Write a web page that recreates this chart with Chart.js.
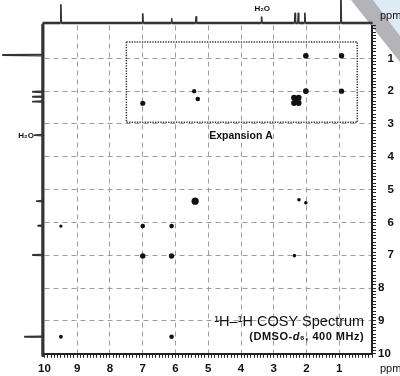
<!DOCTYPE html>
<html>
<head>
<meta charset="utf-8">
<script src="https://cdn.jsdelivr.net/npm/chart.js@4"></script>
<style>
  html, body { margin: 0; padding: 0; background: #fff; }
</style>
</head>
<body>
<canvas id="cosy" width="400" height="376"></canvas>
<script>
// cross peaks: F2 shift (horizontal), F1 shift (vertical), relative intensity
const crossF2  = [7.00, 5.43, 5.32, 2.02, 0.93, 2.02, 0.93, 2.38, 2.24, 2.38, 2.24, 2.31, 5.40, 9.50, 7.00, 6.12, 7.00, 6.12, 2.23, 2.02, 2.37, 9.50, 6.12];
const crossF1  = [2.37, 2.00, 2.24, 0.92, 0.92, 2.00, 2.00, 2.20, 2.20, 2.36, 2.36, 2.28, 5.35, 6.11, 6.11, 6.11, 7.02, 7.02, 5.31, 5.40, 7.01, 9.48, 9.48];
const crossInt = [0.60, 0.45, 0.50, 0.70, 0.65, 0.70, 0.65, 0.75, 0.75, 0.75, 0.75, 0.75, 1.00, 0.25, 0.50, 0.50, 0.65, 0.65, 0.30, 0.30, 0.30, 0.35, 0.50];

// 1D projection on top (F2) and on the left (F1)
const topShift  = [9.50, 7.00, 6.12, 5.37, 3.37, 2.35, 2.25, 2.05, 0.95];
const topInt    = [58, 29, 13, 20, 19, 31, 31, 31, 100];
const leftShift = [0.90, 2.02, 2.17, 2.32, 3.34, 5.35, 6.10, 6.99, 9.48];
const leftInt   = [100, 25, 25, 25, 20, 15, 12, 25, 45];
const waterShift = 3.35;

// dotted box marking Expansion A (ppm)
const expansionF2 = [7.5, 0.45];
const expansionF1 = [0.5, 2.95];

const FONT = '"Liberation Sans", Arial, Helvetica, sans-serif';
const TOP_BASE = -0.076, TOP_GAIN = 0.0095;
const LEFT_BASE = 10.05, LEFT_GAIN = 0.0122;
const PEAK_HALF = 0.012;

function buildTrace(shifts, ints, start, end, place) {
  const dir = Math.sign(end - start);
  const idx = shifts.map((_, i) => i).sort((a, b) => (shifts[a] - shifts[b]) * dir);
  const pts = [place(start, 0)];
  idx.forEach(i => {
    pts.push(place(shifts[i] - dir * PEAK_HALF, 0));
    pts.push(place(shifts[i], ints[i]));
    pts.push(place(shifts[i] + dir * PEAK_HALF, 0));
  });
  pts.push(place(end, 0));
  return pts;
}

const topTrace = buildTrace(topShift, topInt, 10.06, -0.02,
  (s, h) => ({x: s, y: TOP_BASE - h * TOP_GAIN}));
const leftTrace = buildTrace(leftShift, leftInt, -0.02, 10.05,
  (s, h) => ({x: LEFT_BASE + h * LEFT_GAIN, y: s}));

const crossPoints = crossF2.map((f2, i) => ({x: f2, y: crossF1[i]}));
const crossRadius = crossInt.map(v => 1 + 2.6 * v);

const boxPoints = [
  {x: expansionF2[0], y: expansionF1[0]}, {x: expansionF2[1], y: expansionF1[0]},
  {x: expansionF2[1], y: expansionF1[1]}, {x: expansionF2[0], y: expansionF1[1]},
  {x: expansionF2[0], y: expansionF1[0]}
];

const isMajor = v => Math.abs(v - Math.round(v)) < 1e-6;
const gridColor = c => {
  const v = c.tick ? c.tick.value : 0;
  return isMajor(v) && v > 0.5 && v < 9.5 ? '#9c9c9c' : 'rgba(0,0,0,0)';
};
const tickFont = {family: FONT, size: 11.5, weight: 'bold'};

// thick baseline, thin peak strokes
const topSegWidth = c => (Math.abs(c.p0.y - c.p1.y) < 0.01 ? 2.6 : 1.7);
const leftSegWidth = c => (Math.abs(c.p0.x - c.p1.x) < 0.01 ? 3.2 : 1.9);

// grey diagonal streak across the upper right corner
const streak = {
  id: 'streak',
  beforeDraw(chart) {
    const {ctx} = chart;
    ctx.save();
    ctx.fillStyle = 'rgba(200,220,236,0.6)';
    ctx.beginPath();
    ctx.moveTo(373, 0); ctx.lineTo(400, 0); ctx.lineTo(400, 36);
    ctx.closePath();
    ctx.fill();
    ctx.fillStyle = 'rgba(150,150,158,0.72)';
    ctx.beginPath();
    ctx.moveTo(351, 0); ctx.lineTo(373, 0); ctx.lineTo(400, 36);
    ctx.lineTo(400, 62); ctx.closePath();
    ctx.fill();
    ctx.restore();
  }
};

// text drawn on top of the spectrum
const cosyText = {
  id: 'cosyText',
  afterDatasetsDraw(chart) {
    const {ctx, scales: {x, y}} = chart;
    ctx.save();
    ctx.fillStyle = '#111';
    ctx.textBaseline = 'middle';

    ctx.font = 'bold 10.5px ' + FONT;
    ctx.textAlign = 'center';
    ctx.fillText('Expansion A', x.getPixelForValue(4.0), y.getPixelForValue(3.37));

    ctx.font = 'bold 8px ' + FONT;
    const waterTop = y.getPixelForValue(TOP_BASE - topInt[4] * TOP_GAIN);
    ctx.fillText('H\u2082O', x.getPixelForValue(waterShift), waterTop - 8);
    ctx.textAlign = 'right';
    const waterLeft = x.getPixelForValue(LEFT_BASE + leftInt[4] * LEFT_GAIN);
    ctx.fillText('H\u2082O', waterLeft - 1, y.getPixelForValue(waterShift));

    ctx.font = '11px ' + FONT;
    ctx.textAlign = 'left';
    ctx.fillText('ppm', x.getPixelForValue(0) + 8, y.getPixelForValue(0) - 10);
    ctx.fillText('ppm', x.getPixelForValue(0) + 8, y.getPixelForValue(10) + 15.5);

    // title, right aligned
    const right = x.getPixelForValue(0.24);
    ctx.textAlign = 'right';
    ctx.font = '14.5px ' + FONT;
    ctx.fillText('\u00b9H\u2013\u00b9H COSY Spectrum', right, y.getPixelForValue(9.02));

    ctx.font = 'bold 11px ' + FONT;
    if ('letterSpacing' in ctx) ctx.letterSpacing = '0.5px';
    const tail = '\u2086, 400 MHz)';
    const head = '(DMSO-';
    const ty = y.getPixelForValue(9.49);
    ctx.fillText(tail, right, ty);
    let xPos = right - ctx.measureText(tail).width;
    ctx.font = 'italic bold 11px ' + FONT;
    ctx.fillText('d', xPos, ty);
    xPos -= ctx.measureText('d').width;
    ctx.font = 'bold 11px ' + FONT;
    ctx.fillText(head, xPos, ty);
    ctx.restore();
  }
};

new Chart(document.getElementById('cosy'), {
  type: 'scatter',
  data: {
    datasets: [
      {
        data: boxPoints, showLine: true, pointRadius: 0,
        borderColor: '#333', borderWidth: 1.5, borderDash: [1.3, 1.3]
      },
      {
        data: crossPoints, pointRadius: crossRadius,
        backgroundColor: '#111', borderWidth: 0
      },
      {
        data: topTrace, showLine: true, pointRadius: 0, clip: false,
        borderColor: '#333', borderWidth: 2.6, borderJoinStyle: 'round', tension: 0,
        segment: {borderWidth: topSegWidth}
      },
      {
        data: leftTrace, showLine: true, pointRadius: 0, clip: false,
        borderColor: '#333', borderWidth: 3.2, borderJoinStyle: 'round', tension: 0,
        segment: {borderWidth: leftSegWidth}
      }
    ]
  },
  options: {
    responsive: false,
    animation: false,
    layout: {padding: {left: 44.5, top: 25.5, right: 0, bottom: 0}},
    plugins: {legend: {display: false}, tooltip: {enabled: false}},
    scales: {
      x: {
        type: 'linear', position: 'bottom', reverse: true, min: 0, max: 10,
        afterFit: s => { s.height = 22.2; },
        ticks: {
          stepSize: 0.1, autoSkip: false, maxRotation: 0, minRotation: 0,
          padding: 4, color: '#111', font: tickFont,
          callback: v => (isMajor(v) && Math.round(v) > 0 ? String(Math.round(v)) : '')
        },
        grid: {color: gridColor, lineWidth: 1, tickColor: '#222', tickLength: 4, tickWidth: 1, tickBorderDash: []},
        border: {display: true, color: '#222', width: 2, dash: [5, 4]}
      },
      y: {
        type: 'linear', position: 'right', reverse: true, min: 0, max: 10,
        afterFit: s => { s.width = 28; },
        ticks: {
          stepSize: 0.1, autoSkip: false, padding: 2, color: '#111', font: tickFont,
          callback: v => {
            const n = Math.round(v);
            if (!isMajor(v) || n === 0) return '';
            return (n < 8 ? '   ' : '') + n;
          }
        },
        grid: {color: gridColor, lineWidth: 1, tickColor: '#222', tickLength: 4, tickWidth: 1, tickBorderDash: []},
        border: {display: true, color: '#222', width: 2, dash: [5, 4]}
      }
    }
  },
  plugins: [streak, cosyText]
});
</script>
</body>
</html>
